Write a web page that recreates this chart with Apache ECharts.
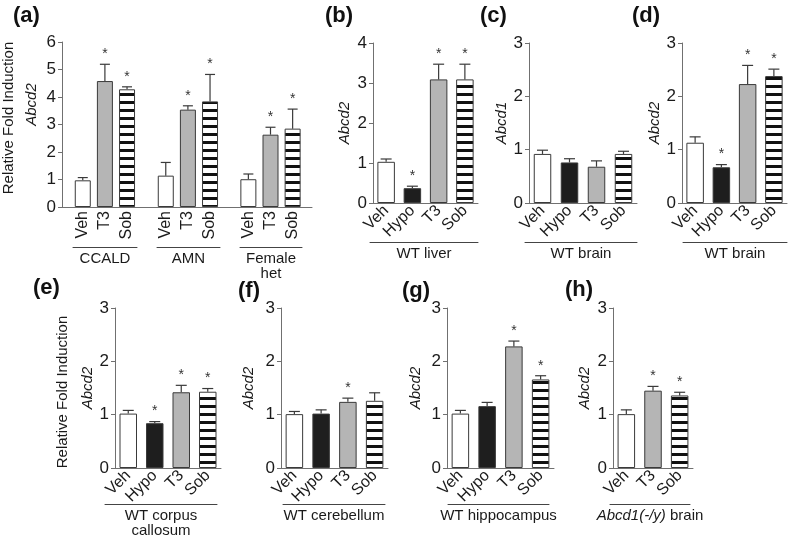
<!DOCTYPE html>
<html><head><meta charset="utf-8">
<script src="https://cdn.jsdelivr.net/npm/echarts@6/dist/echarts.min.js"></script>
<style>html,body{margin:0;padding:0;background:#fff}#c{width:788px;height:540px}</style>
</head><body><div id="c"></div>
<script>
// ---------- data ----------
const aCats = ['Veh', 'T3', 'Sob'];
const aGroupNames = ['CCALD', 'AMN', 'Female\nhet'];
const aCCALD = [0.97, 4.58, 4.28];
const aCCALDErr = [1.07, 5.19, 4.37];
const aCCALDSig = [0, 1, 1];
const aAMN = [1.14, 3.54, 3.84];
const aAMNErr = [1.62, 3.68, 4.82];
const aAMNSig = [0, 1, 1];
const aFemale = [1.01, 2.63, 2.85];
const aFemaleErr = [1.20, 2.90, 3.56];
const aFemaleSig = [0, 1, 1];

const cats4 = ['Veh', 'Hypo', 'T3', 'Sob'];
const cats3 = ['Veh', 'T3', 'Sob'];

const bVals = [1.03, 0.37, 3.09, 3.09];
const bErr = [1.10, 0.42, 3.47, 3.47];
const bSig = [0, 1, 1, 1];
const cVals = [0.92, 0.76, 0.68, 0.92];
const cErr = [0.99, 0.83, 0.79, 0.97];
const cSig = [0, 0, 0, 0];
const dVals = [1.13, 0.67, 2.23, 2.38];
const dErr = [1.24, 0.72, 2.58, 2.51];
const dSig = [0, 1, 1, 1];
const eVals = [1.02, 0.84, 1.42, 1.43];
const eErr = [1.08, 0.87, 1.55, 1.49];
const eSig = [0, 1, 1, 1];
const fVals = [1.01, 1.02, 1.24, 1.26];
const fErr = [1.06, 1.09, 1.31, 1.41];
const fSig = [0, 0, 1, 0];
const gVals = [1.02, 1.16, 2.28, 1.66];
const gErr = [1.08, 1.23, 2.38, 1.73];
const gSig = [0, 0, 1, 1];
const hVals = [1.01, 1.45, 1.36];
const hErr = [1.09, 1.53, 1.42];
const hSig = [0, 1, 1];

const yTicksA = 6, yTicksB = 4, yTicksOther = 3;

// ---------- styling ----------
const FONT = "'Liberation Sans', Arial, Helvetica, sans-serif";
const AX = '#707070';
const TXT = '#1a1a1a';
const EDGE = '#3a3a3a';

function stripe() {
  const c = document.createElement('canvas');
  c.width = 8; c.height = 8;
  const x = c.getContext('2d');
  x.fillStyle = '#ffffff'; x.fillRect(0, 0, 8, 8);
  x.fillStyle = '#111111'; x.fillRect(0, 5, 8, 3);
  return { image: c, repeat: 'repeat' };
}
const FILL = { Veh: '#ffffff', Hypo: '#1e1e1e', T3: '#b5b5b5', Sob: stripe() };

const grid = [], xAxis = [], yAxis = [], series = [], graphic = [];

function errSeries(gi, vals, err, sig, capW) {
  return {
    type: 'custom', xAxisIndex: gi, yAxisIndex: gi, clip: false, silent: true,
    data: vals.map((v, i) => [i, v, err[i], sig[i]]),
    renderItem: function (params, api) {
      const idx = api.value(0), v = api.value(1), e = api.value(2), s = api.value(3);
      const p0 = api.coord([idx, v]), p1 = api.coord([idx, e]);
      const h = capW / 2;
      const ls = { stroke: EDGE, lineWidth: 1.2 };
      const ch = [
        { type: 'line', shape: { x1: p0[0], y1: p0[1], x2: p1[0], y2: p1[1] }, style: ls },
        { type: 'line', shape: { x1: p1[0] - h, y1: p1[1], x2: p1[0] + h, y2: p1[1] }, style: ls }
      ];
      if (s) ch.push({ type: 'text', x: p1[0], y: p1[1] - 3,
        style: { text: '*', fontSize: 14, fontFamily: FONT, fill: '#333', align: 'center', verticalAlign: 'bottom' } });
      return { type: 'group', children: ch };
    }
  };
}

function yAx(gi, max, name, nameGap, pad) {
  return {
    gridIndex: gi, type: 'value', min: 0, max: max, interval: 1,
    axisLine: { show: true, lineStyle: { color: AX, width: 1 } },
    axisTick: { show: true, length: 4, lineStyle: { color: AX } },
    axisLabel: { fontSize: 17, color: TXT, fontFamily: FONT, margin: 6 },
    splitLine: { show: false },
    name: name, nameLocation: 'middle', nameGap: nameGap, nameRotate: 90,
    nameTextStyle: { fontSize: 15, fontStyle: 'italic', color: TXT, fontFamily: FONT, padding: pad || 0 }
  };
}

function barSeries(gi, cats, vals, bw) {
  return {
    type: 'bar', xAxisIndex: gi, yAxisIndex: gi, barWidth: bw, silent: true,
    data: vals.map((v, i) => ({ value: v, itemStyle: { color: FILL[cats[i]] } })),
    itemStyle: { borderColor: EDGE, borderWidth: 1 }
  };
}

function underline(left, width, y, name) {
  const gi = grid.length;
  grid.push({ left: left, width: width, top: y - 1, height: 1 });
  xAxis.push({ gridIndex: gi, type: 'value', min: 0, max: 1,
    axisLine: { show: true, lineStyle: { color: '#444', width: 1 } },
    axisTick: { show: false }, axisLabel: { show: false }, splitLine: { show: false },
    name: name, nameLocation: 'middle', nameGap: 4,
    nameTextStyle: { fontSize: 15, color: TXT, fontFamily: FONT, lineHeight: 15, verticalAlign: 'top',
      rich: { i: { fontSize: 15, fontStyle: 'italic', color: TXT, fontFamily: FONT } } } });
  yAxis.push({ gridIndex: gi, type: 'value', show: false });
}

function panel(p) {
  const gi = grid.length;
  grid.push({ left: p.left, top: p.top, width: p.width, height: p.height });
  xAxis.push({ gridIndex: gi, type: 'category', data: p.cats,
    axisLine: { show: true, lineStyle: { color: AX, width: 1 } },
    axisTick: { show: false },
    axisLabel: { rotate: 45, interval: 0, margin: 5, fontSize: 16, color: TXT, fontFamily: FONT } });
  yAxis.push(yAx(gi, p.max, p.yName, p.nameGap));
  series.push(barSeries(gi, p.cats, p.vals, 17.5));
  series.push(errSeries(gi, p.vals, p.err, p.sig, 11));
}

// ----- panel (a): frame + three groups -----
(function () {
  const gi = grid.length;
  grid.push({ left: 62, top: 42, width: 250, height: 165 });
  xAxis.push({ gridIndex: gi, type: 'value', min: 0, max: 1,
    axisLine: { show: true, lineStyle: { color: AX, width: 1 } },
    axisTick: { show: false }, axisLabel: { show: false }, splitLine: { show: false } });
  yAxis.push(yAx(gi, yTicksA, 'Abcd2', 23, [0, 0, 0, 40]));
  const groups = [
    { left: 71.7, vals: aCCALD, err: aCCALDErr, sig: aCCALDSig, ul: [73, 64] },
    { left: 154.7, vals: aAMN, err: aAMNErr, sig: aAMNSig, ul: [157, 63] },
    { left: 237.3, vals: aFemale, err: aFemaleErr, sig: aFemaleSig, ul: [240, 62] }
  ];
  groups.forEach(function (g, k) {
    const i = grid.length;
    grid.push({ left: g.left, top: 42, width: 66.4, height: 165 });
    xAxis.push({ gridIndex: i, type: 'category', data: aCats,
      axisLine: { show: false }, axisTick: { show: false },
      axisLabel: { rotate: 90, interval: 0, margin: 4, fontSize: 16, color: TXT, fontFamily: FONT } });
    yAxis.push({ gridIndex: i, type: 'value', min: 0, max: yTicksA, show: false });
    series.push(barSeries(i, aCats, g.vals, 16));
    series.push(errSeries(i, g.vals, g.err, g.sig, 10));
    underline(g.ul[0], g.ul[1], 247, aGroupNames[k]);
  });
})();

panel({ left: 373, top: 43, width: 105, height: 160, max: yTicksB, cats: cats4, vals: bVals, err: bErr, sig: bSig, yName: 'Abcd2', nameGap: 21 });
underline(370, 108, 242, 'WT liver');
panel({ left: 529, top: 43, width: 108, height: 160, max: yTicksOther, cats: cats4, vals: cVals, err: cErr, sig: cSig, yName: 'Abcd1', nameGap: 17 });
underline(525, 112, 242, 'WT brain');
panel({ left: 682, top: 43, width: 105, height: 160, max: yTicksOther, cats: cats4, vals: dVals, err: dErr, sig: dSig, yName: 'Abcd2', nameGap: 20 });
underline(683, 104, 242, 'WT brain');

panel({ left: 115, top: 308, width: 106, height: 160, max: yTicksOther, cats: cats4, vals: eVals, err: eErr, sig: eSig, yName: 'Abcd2', nameGap: 18 });
underline(105, 112, 504, 'WT corpus\ncallosum');
panel({ left: 281, top: 308, width: 107, height: 160, max: yTicksOther, cats: cats4, vals: fVals, err: fErr, sig: fSig, yName: 'Abcd2', nameGap: 25 });
underline(283, 102, 504, 'WT cerebellum');
panel({ left: 447, top: 308, width: 107, height: 160, max: yTicksOther, cats: cats4, vals: gVals, err: gErr, sig: gSig, yName: 'Abcd2', nameGap: 24 });
underline(448, 101, 504, 'WT hippocampus');
panel({ left: 613, top: 308, width: 80, height: 160, max: yTicksOther, cats: cats3, vals: hVals, err: hErr, sig: hSig, yName: 'Abcd2', nameGap: 21 });
underline(610, 80, 504, '{i|Abcd1(-/y)} brain');

// ----- panel letters & shared y labels -----
const letters = [['(a)', 13, 17], ['(b)', 325, 17], ['(c)', 480, 17], ['(d)', 632, 17],
                 ['(e)', 33, 289], ['(f)', 238, 292], ['(g)', 402, 292], ['(h)', 565, 291]];
letters.forEach(function (l) {
  graphic.push({ type: 'text', left: l[1], top: l[2] - 12,
    style: { text: l[0], fontSize: 22, fontWeight: 'bold', fill: '#111', fontFamily: FONT } });
});
[[9, 118], [63, 392]].forEach(function (p) {
  graphic.push({ type: 'text', x: p[0], y: p[1], rotation: Math.PI / 2,
    style: { text: 'Relative Fold Induction', fontSize: 15, fill: TXT, fontFamily: FONT, align: 'center', verticalAlign: 'middle' } });
});

const chart = echarts.init(document.getElementById('c'), null, { renderer: 'canvas' });
chart.setOption({
  animation: false,
  backgroundColor: '#ffffff',
  textStyle: { fontFamily: FONT },
  grid: grid, xAxis: xAxis, yAxis: yAxis, series: series, graphic: graphic
});
</script></body></html>
